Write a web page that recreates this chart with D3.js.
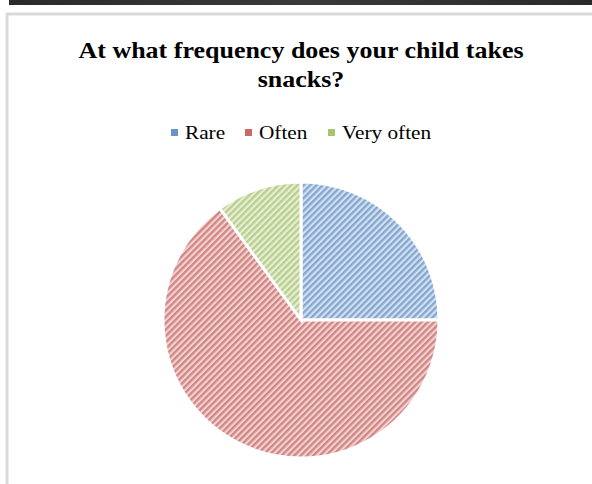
<!DOCTYPE html>
<html>
<head>
<meta charset="utf-8">
<script src="https://cdn.jsdelivr.net/npm/d3@7"></script>
<style>
  body { margin: 0; background: #fff; }
  svg { display: block; }
</style>
</head>
<body>
<svg id="chart" width="592" height="484"></svg>
<script>
const categories = ["Rare", "Often", "Very often"];
const values = [25, 65, 10];
const colors = ["#4F81BD", "#C0504D", "#9BBB59"];
const titleLines = ["At what frequency does your child takes", "snacks?"];

const svg = d3.select("#chart");
const width = +svg.attr("width");
const font = "'Liberation Serif', 'Times New Roman', serif";

// top dark bar + chart frame
const grad = svg.append("defs").append("linearGradient").attr("id", "bar-grad");
grad.append("stop").attr("offset", "0%").attr("stop-color", "#2a2a2a");
grad.append("stop").attr("offset", "50%").attr("stop-color", "#3a3a3a");
grad.append("stop").attr("offset", "100%").attr("stop-color", "#2a2a2a");
svg.append("rect").attr("x", 9).attr("y", 0).attr("width", width - 9).attr("height", 5)
  .attr("fill", "url(#bar-grad)");
svg.append("path").attr("d", "M7,484 V14 H592")
  .attr("fill", "none").attr("stroke", "#d9d9d9").attr("stroke-width", 3);

// hatch patterns
const defs = svg.select("defs");
colors.forEach((c, i) => {
  const p = defs.append("pattern")
    .attr("id", "hatch" + i)
    .attr("patternUnits", "userSpaceOnUse")
    .attr("width", 4.5).attr("height", 4.5)
    .attr("patternTransform", "rotate(45)");
  p.append("rect").attr("width", 4.5).attr("height", 4.5)
    .attr("fill", d3.interpolateRgb(c, "#fff")(0.75));
  p.append("rect").attr("width", 2.3).attr("height", 4.5)
    .attr("fill", d3.interpolateRgb(c, "#fff")(0.3));
});

// title (source image is slightly stretched horizontally)
svg.append("g").attr("transform", "translate(301,0) scale(1.13,1)")
  .append("text")
  .attr("text-anchor", "middle")
  .style("font-family", font).style("font-weight", "bold").style("font-size", "23px")
  .selectAll("tspan").data(titleLines).enter().append("tspan")
    .attr("x", 0).attr("y", (d, i) => 58 + i * 29)
    .text(d => d);

// legend
const legendX = [171, 245, 328];
const legend = svg.append("g").selectAll("g").data(categories).enter().append("g")
  .attr("transform", (d, i) => `translate(${legendX[i]},139)`);
legend.append("rect").attr("x", 0).attr("y", -10).attr("width", 7).attr("height", 7)
  .attr("fill", (d, i) => d3.interpolateRgb(colors[i], "#fff")(0.15));
legend.append("text").attr("transform", "translate(14,0) scale(1.15,1)")
  .style("font-family", font).style("font-size", "18.5px")
  .text(d => d);

// pie
const cx = 301, cy = 320, r = 138;
const pie = d3.pie().sort(null).value(d => d)(values);
const arc = d3.arc().innerRadius(0).outerRadius(r);
svg.append("g").attr("transform", `translate(${cx},${cy})`)
  .selectAll("path").data(pie).enter().append("path")
    .attr("d", arc)
    .attr("fill", (d, i) => `url(#hatch${i})`)
    .attr("stroke", "#fff").attr("stroke-width", 3);
</script>
</body>
</html>
